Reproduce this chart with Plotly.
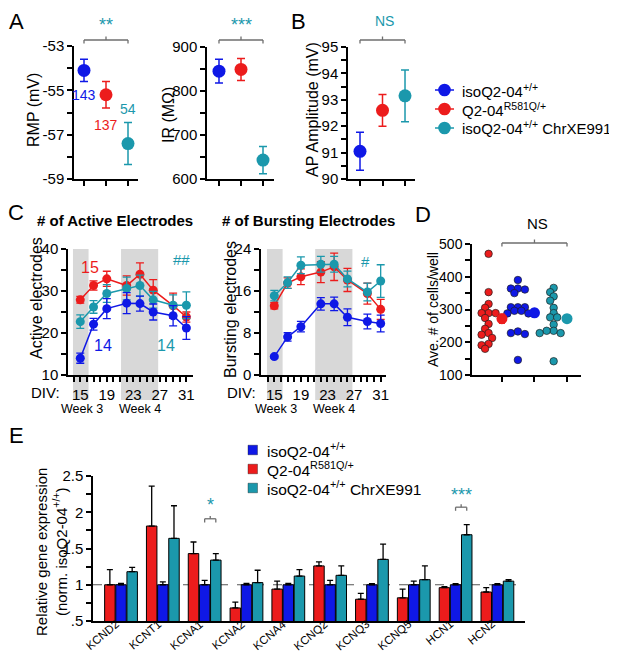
"""Multi-panel electrophysiology figure (panels A-E) rebuilt with plotly."""

import numpy as np
import plotly.graph_objects as go

W, H = 617, 655
FONT = "Arial, 'Liberation Sans', Helvetica, sans-serif"

BLUE = "#0f18e6"
RED = "#ec1c1c"
TEAL = "#1b98ac"
SHADE = "#d8d8d8"
BRACKET = "#6e6e6e"

# ── Data ─────────────────────────────────────────────────────────
# group order everywhere: isoQ2-04+/+, Q2-04 R581Q/+, isoQ2-04+/+ ChrXE991
GROUP_NAMES = ["isoQ2-04<sup>+/+</sup>", "Q2-04<sup>R581Q/+</sup>",
               "isoQ2-04<sup>+/+</sup> ChrXE991"]
COLORS = [BLUE, RED, TEAL]

# A: resting membrane potential, input resistance
rmp_mean = [-54.1, -55.2, -57.4]
rmp_sem = [0.5, 0.6, 0.95]
rmp_n = ["143", "137", "54"]
ir_mean = [845, 849, 643]
ir_sem = [27, 25, 31]

# B: AP amplitude
ap_mean = [91.05, 92.6, 93.15]
ap_sem = [0.72, 0.6, 0.98]

# C: MEA time course
div = [15, 17, 19, 22, 24, 26, 29, 31]
act_mean = {
    "blue": [14.0, 22.1, 25.8, 27.1, 27.0, 25.0, 24.1, 21.2],
    "red": [27.9, 31.3, 32.9, 31.3, 34.0, 30.2, 26.5, 23.8],
    "teal": [22.7, 26.2, 29.4, 30.6, 31.3, 27.9, 26.6, 26.6],
}
act_sem = {
    "blue": [1.2, 1.4, 2.4, 2.5, 1.8, 1.9, 2.4, 2.7],
    "red": [0.8, 1.1, 1.8, 2.3, 2.7, 2.5, 3.0, 1.2],
    "teal": [1.6, 1.5, 2.1, 2.7, 2.5, 2.0, 2.5, 3.2],
}
bur_mean = {
    "blue": [3.5, 7.25, 9.2, 13.55, 13.55, 11.0, 10.2, 9.8],
    "red": [13.2, 17.5, 18.7, 19.6, 20.6, 18.1, 15.5, 12.5],
    "teal": [15.1, 17.6, 20.9, 21.1, 21.1, 18.3, 15.8, 17.9],
}
bur_sem = {
    "blue": [0.3, 0.8, 1.0, 1.2, 1.3, 1.6, 1.4, 1.6],
    "red": [0.6, 1.0, 1.5, 2.0, 2.6, 2.2, 2.0, 1.9],
    "teal": [1.0, 1.1, 1.6, 1.5, 1.5, 1.5, 1.7, 3.1],
}
week3 = (13.9, 16.25)
week4 = (21.15, 26.75)

# D: cells per well (order in panel: red, blue, teal)
cells_red = [470, 353, 317, 305, 289, 289, 289, 274, 256, 241, 228, 223, 213, 195, 191, 180]
cells_blue = [390, 364, 364, 361, 350, 307, 307, 307, 296, 296, 288, 288, 233, 228, 225, 146]
cells_teal = [366, 353, 340, 327, 305, 289, 276, 276, 254, 235, 235, 228, 228, 142]
cells_mean = [272, 290, 272]
cells_sem = [14, 12, 11]

# E: qPCR
genes = ["KCND2", "KCNT1", "KCNA1", "KCNA2", "KCNA4",
         "KCNQ2", "KCNQ3", "KCNQ5", "HCN1", "HCN2"]
e_red = [1.0, 1.81, 1.43, 0.68, 0.94, 1.26, 0.80, 0.82, 0.96, 0.90]
e_red_err = [0.21, 0.55, 0.16, 0.08, 0.11, 0.055, 0.08, 0.12, 0.015, 0.06]
e_blue = [1.0, 1.0, 1.0, 1.0, 1.0, 1.0, 1.0, 1.0, 1.0, 1.0]
e_blue_err = [0.02, 0.04, 0.06, 0.02, 0.02, 0.06, 0.015, 0.05, 0.015, 0.015]
e_teal = [1.18, 1.64, 1.34, 1.03, 1.12, 1.13, 1.35, 1.07, 1.69, 1.05]
e_teal_err = [0.06, 0.45, 0.09, 0.17, 0.09, 0.13, 0.21, 0.19, 0.14, 0.02]


# ── Helpers ──────────────────────────────────────────────────────

def fx(px):
    return px / W


def fy(py):
    return 1 - py / H


def dom_x(a, b):
    return [fx(a), fx(b)]


def dom_y(top, bottom):
    return [fy(bottom), fy(top)]


def ax(**kw):
    base = dict(showline=True, linecolor="black", linewidth=1.5, ticks="outside",
                ticklen=5, tickwidth=1.5, tickcolor="black", showgrid=False,
                zeroline=False, fixedrange=True, automargin=False,
                tickfont=dict(size=15, color="black", family=FONT))
    base.update(kw)
    return base


def ticks(lo, hi, step, label_every, fmt=lambda v: f"{v:g}"):
    vals = list(np.round(np.arange(lo, hi + step / 2, step), 6))
    text = [fmt(v) if i % label_every == 0 else "" for i, v in enumerate(vals)]
    return dict(tickmode="array", tickvals=vals, ticktext=text)


annotations = []
shapes = []


def text(s, x, y, size=15, color="black", xref="paper", yref="paper",
         xanchor="center", yanchor="middle", **kw):
    if xref == "paper":
        x = fx(x)
    if yref == "paper":
        y = fy(y)
    annotations.append(dict(text=s, x=x, y=y, xref=xref, yref=yref, showarrow=False,
                            xanchor=xanchor, yanchor=yanchor,
                            font=dict(size=size, color=color, family=FONT), **kw))


def line(x0, y0, x1, y1, xref="paper", yref="paper", color=BRACKET, width=1.3, dash=None):
    if xref == "paper":
        x0, x1 = fx(x0), fx(x1)
    if yref == "paper":
        y0, y1 = fy(y0), fy(y1)
    shapes.append(dict(type="line", x0=x0, x1=x1, y0=y0, y1=y1, xref=xref, yref=yref,
                       line=dict(color=color, width=width, dash=dash)))


def bracket(x0, x1, y, drop, rise, xref, yref="paper"):
    """Significance bracket: horizontal bar, ends bent down, short tick up in the middle."""
    sgn = 1 if yref == "paper" else -1
    line(x0, y, x1, y, xref, yref)
    line(x0, y, x0, y + sgn * drop, xref, yref)
    line(x1, y, x1, y + sgn * drop, xref, yref)
    xm = (x0 + x1) / 2
    line(xm, y, xm, y - sgn * rise, xref, yref)


def swarm(values, centre, px_per_x, px_per_y, min_px=5.0, step_px=3.5):
    """Simple beeswarm offsets computed in pixel space."""
    vals = np.asarray(values, dtype=float)
    xs = np.zeros(len(vals))
    placed = []
    cands = [0] + [s * j for j in range(1, 12) for s in (-1, 1)]
    for i in np.argsort(-vals):
        yp = vals[i] * px_per_y
        xp = 0.0
        for c in cands:
            xp = c * step_px
            if all((xp - a) ** 2 + (yp - b) ** 2 >= min_px ** 2 for a, b in placed):
                break
        placed.append((xp, yp))
        xs[i] = centre + xp / px_per_x
    return xs


fig = go.Figure()

# ── Panel A / B (mean ± SEM dots) ────────────────────────────────
for xa, ya, means, sems in [("x", "y", rmp_mean, rmp_sem),
                            ("x2", "y2", ir_mean, ir_sem),
                            ("x3", "y3", ap_mean, ap_sem)]:
    for i, (m, s, col) in enumerate(zip(means, sems, COLORS)):
        fig.add_trace(go.Scatter(
            x=[i], y=[m], mode="markers", xaxis=xa, yaxis=ya, showlegend=False,
            marker=dict(size=13, color=col),
            error_y=dict(type="data", array=[s], color=col, thickness=1.5, width=4)))

for i, (n, col) in enumerate(zip(rmp_n, COLORS)):
    pos_y = [-55.2, -56.55, -55.85][i]
    text(n, i, pos_y, size=14, color=col, xref="x", yref="y")

# ── Panel C (time courses) ───────────────────────────────────────
series = [("red", RED), ("teal", TEAL), ("blue", BLUE)]
for xa, ya, means, sems in [("x4", "y4", act_mean, act_sem),
                            ("x5", "y5", bur_mean, bur_sem)]:
    for key, col in series:
        fig.add_trace(go.Scatter(
            x=div, y=means[key], mode="lines+markers", xaxis=xa, yaxis=ya,
            showlegend=False, line=dict(color=col, width=1.5),
            marker=dict(size=9, color=col),
            error_y=dict(type="data", array=sems[key], color=col, thickness=1.3, width=4)))
    for lo, hi in (week3, week4):
        shapes.append(dict(type="rect", xref=xa, yref="paper", x0=lo, x1=hi,
                           y0=fy(392), y1=fy(241), fillcolor=SHADE, line=dict(width=0),
                           layer="below"))

# ── Panel D (cells per well) ─────────────────────────────────────
D_PX_X = 109 / (3.43 - 0.08)
D_PX_Y = 131 / 400
for vals, centre, col in [(cells_red, 0.59, RED), (cells_blue, 1.49, BLUE),
                          (cells_teal, 2.59, TEAL)]:
    fig.add_trace(go.Scatter(
        x=swarm(vals, centre, D_PX_X, D_PX_Y), y=vals, mode="markers",
        xaxis="x6", yaxis="y6", showlegend=False,
        marker=dict(size=7.5, color=col, line=dict(color="rgba(30,30,30,0.85)", width=0.8))))
for i, (m, s, col) in enumerate(zip(cells_mean, cells_sem, [RED, BLUE, TEAL])):
    fig.add_trace(go.Scatter(
        x=[i + 1], y=[m], mode="markers", xaxis="x6", yaxis="y6", showlegend=False,
        marker=dict(size=11, color=col),
        error_y=dict(type="data", array=[s], color=col, thickness=1.3, width=3)))

# ── Panel E (bars) ───────────────────────────────────────────────
gx = list(range(len(genes)))
for vals, errs, col in [(e_red, e_red_err, RED), (e_blue, e_blue_err, BLUE),
                        (e_teal, e_teal_err, TEAL)]:
    fig.add_trace(go.Bar(
        x=gx, y=vals, xaxis="x7", yaxis="y7", showlegend=False,
        marker=dict(color=col, line=dict(color="black", width=1)),
        error_y=dict(type="data", symmetric=False, array=errs,
                     arrayminus=[0] * len(errs), color="black", thickness=1.3, width=3)))
shapes.append(dict(type="line", xref="x7 domain", yref="y7", x0=0, x1=1, y0=1, y1=1,
                   line=dict(color="#555555", width=1, dash="dash"), layer="below"))
# slanted category labels, anchored by their top-right corner under each group
for i, g in zip(gx, genes):
    text(g, i + 0.07, 607, size=11.5, xref="x7", xanchor="right", yanchor="top",
         textangle=-40)

# ── Text, brackets, legends ──────────────────────────────────────
for letter, x, y in [("A", 8, 13), ("B", 290, 13), ("C", 8, 205), ("D", 415, 206), ("E", 8, 428)]:
    text(letter, x, y, size=22)

# y-axis titles
for s, x, y in [("RMP (mV)", 26, 102), ("IR (MΩ)", 161, 107), ("AP Amplitude (mV)", 305, 102),
                ("Active electrodes", 28, 290), ("Bursting electrodes", 222, 302)]:
    text(s, x, y, size=16, textangle=-90)
text("Ave. # of cells/well", 425, 302, size=14, textangle=-90)
text("Relative gene expression<br>(norm. isoQ2-04<sup>+/+</sup>)", 43, 544, size=15,
     textangle=-90)

# A / B significance
bracket(0, 2, 32, 3.5, 3.5, "x")
bracket(0, 2, 32, 3.5, 3.5, "x2")
bracket(0, 2, 32, 3.5, 3.5, "x3")
text("**", 1, 16.5, size=18, color=TEAL, xref="x")
text("***", 1, 16.5, size=18, color=TEAL, xref="x2")
text("NS", 1.1, 13, size=14, color=TEAL, xref="x3")

# C titles and labels
text("<b># of Active Electrodes</b>", 107, 212, size=15)
text("<b># of Bursting Electrodes</b>", 300, 212, size=15)
text("15", 16.5, 35.5, size=16, color=RED, xref="x4", yref="y4")
text("14", 18.4, 17.1, size=16, color=BLUE, xref="x4", yref="y4")
text("14", 27.9, 17.1, size=16, color=TEAL, xref="x4", yref="y4")
text("##", 30.2, 37.4, size=15, color=TEAL, xref="x4", yref="y4")
text("**", 29.4, 24.3, size=17, color=TEAL, xref="x5", yref="y5")
text("#", 28.7, 21.7, size=15, color=TEAL, xref="x5", yref="y5")
for xa, xdiv in [("x4", 37), ("x5", 233)]:
    text("DIV:", xdiv, 384, size=15)
    text("Week 3", 15.2, 401, size=12.5, xref=xa)
    text("Week 4", 24.0, 401, size=12.5, xref=xa)

# D
bracket(1, 3, 235, 3.5, 3.5, "x6")
text("NS", 529, 215, size=15)

# E significance
bracket(2, 2 + 0.8 / 3, 1.91, 0.05, 0.04, "x7", "y7")
bracket(8, 8 + 0.8 / 3, 2.07, 0.05, 0.04, "x7", "y7")
text("*", 2 + 0.4 / 3, 2.1, size=18, color=TEAL, xref="x7", yref="y7")
text("***", 8 + 0.4 / 3, 2.24, size=18, color=TEAL, xref="x7", yref="y7")

# legends (B: line + circle, E: squares); order blue, red, teal
for name, col, yr in zip(GROUP_NAMES, COLORS, [82, 101, 120]):
    line(427, yr, 446, yr, color=col, width=1.5)
    shapes.append(dict(type="circle", xref="paper", yref="paper", x0=fx(430.2), x1=fx(442.8),
                       y0=fy(yr + 6.3), y1=fy(yr - 6.3), fillcolor=col, line=dict(width=0)))
    text(name, 452, yr, size=15, xanchor="left")
for name, col, yr in zip(GROUP_NAMES, COLORS, [442, 461, 480]):
    shapes.append(dict(type="rect", xref="paper", yref="paper", x0=fx(240), x1=fx(249.5),
                       y0=fy(yr + 4.8), y1=fy(yr - 4.8), fillcolor=col,
                       line=dict(color="rgba(20,20,20,0.6)", width=0.6)))
    text(name, 257, yr, size=15.5, xanchor="left")

# ── Layout ───────────────────────────────────────────────────────
layout = dict(
    width=W, height=H, margin=dict(l=0, r=0, t=0, b=0, autoexpand=False),
    paper_bgcolor="white", plot_bgcolor="rgba(0,0,0,0)",
    font=dict(family=FONT, color="black"), showlegend=False,
    bargap=0.2, bargroupgap=0.06, barmode="group",
    annotations=annotations, shapes=shapes,
    xaxis=ax(domain=dom_x(66, 130), range=[-0.4545, 2.4545], anchor="y",
             tickvals=[0, 1, 2], showticklabels=False),
    yaxis=ax(domain=dom_y(38, 171), range=[-59, -53], anchor="x", **ticks(-59, -53, 1, 2)),
    xaxis2=ax(domain=dom_x(199, 266), range=[-0.545, 2.5], anchor="y2",
              tickvals=[0, 1, 2], showticklabels=False),
    yaxis2=ax(domain=dom_y(39, 171), range=[600, 900], anchor="x2", **ticks(600, 900, 50, 2)),
    xaxis3=ax(domain=dom_x(340, 407), range=[-0.533, 2.444], anchor="y3",
              tickvals=[0, 1, 2], showticklabels=False),
    yaxis3=ax(domain=dom_y(39, 171), range=[90, 95], anchor="x3", **ticks(90, 95, 0.5, 2)),
    xaxis4=ax(domain=dom_x(60, 185), range=[13.15, 32], anchor="y4",
              tickmode="array", tickvals=list(range(14, 32)),
              ticktext=[str(d) if d in (15, 19, 23, 27, 31) else "" for d in range(14, 32)]),
    yaxis4=ax(domain=dom_y(241, 367), range=[10, 40], anchor="x4", **ticks(10, 40, 5, 2)),
    xaxis5=ax(domain=dom_x(253, 378), range=[13.0, 31.8], anchor="y5",
              tickmode="array", tickvals=list(range(14, 32)),
              ticktext=[str(d) if d in (15, 19, 23, 27, 31) else "" for d in range(14, 32)]),
    yaxis5=ax(domain=dom_y(241, 367), range=[0, 24], anchor="x5", **ticks(0, 24, 4, 2)),
    xaxis6=ax(domain=dom_x(464, 573), range=[0.08, 3.43], anchor="y6",
              tickvals=[1, 2, 3], showticklabels=False),
    yaxis6=ax(domain=dom_y(236, 367), range=[100, 500], anchor="x6",
              tickfont=dict(size=14, color="black", family=FONT), **ticks(100, 500, 50, 2)),
    xaxis7=ax(domain=dom_x(85, 517), range=[-0.67, 9.66], anchor="y7", ticks="",
              tickvals=gx, showticklabels=False),
    yaxis7=ax(domain=dom_y(468, 613), range=[0.5, 2.5], anchor="x7",
              **ticks(0.5, 2.5, 0.25, 2, fmt=lambda v: f"{v:g}".lstrip("0"))),
)
fig.update_layout(**layout)

fig.write_html("out.html")
